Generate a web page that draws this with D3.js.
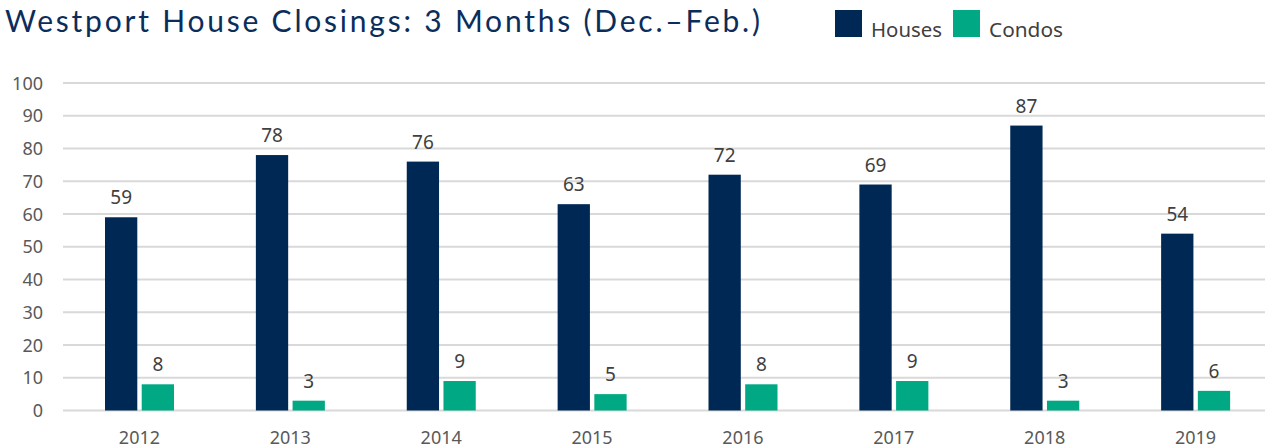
<!DOCTYPE html>
<html><head><meta charset="utf-8">
<script src="https://cdn.jsdelivr.net/npm/d3@7"></script>
<style>
html,body{margin:0;padding:0;background:#fff;}
svg{display:block;}
</style></head>
<body>
<svg id="chart" width="1265" height="448"></svg>
<script>
const years = ["2012","2013","2014","2015","2016","2017","2018","2019"];
const houses = [59, 78, 76, 63, 72, 69, 87, 54];
const condos = [8, 3, 9, 5, 8, 9, 3, 6];
const yTicks = [0,10,20,30,40,50,60,70,80,90,100];
const seriesNames = ["Houses","Condos"];
const colors = ["#002855","#00a983"];

const svg = d3.select("#chart");
const W = 1265;
const x0 = d3.scaleBand().domain(years).range([64, 1271]).paddingInner(0).paddingOuter(0);
const x1 = d3.scaleBand().domain(seriesNames).range([41, 110]).paddingInner(0.12);
const y = d3.scaleLinear().domain([0,100]).range([410.5, 83]);

// gridlines
svg.append("g").selectAll("line").data(yTicks).join("line")
  .attr("x1", 63).attr("x2", W)
  .attr("y1", d=>y(d)).attr("y2", d=>y(d))
  .attr("stroke", "#d9d9d9").attr("stroke-width", 2);

// y axis labels
const yAxis = d3.axisLeft(y).tickValues(yTicks).tickSize(0).tickPadding(0);
const ya = svg.append("g").attr("transform","translate(43,0)").call(yAxis);
ya.select(".domain").remove();
ya.selectAll("text").attr("font-family","Noto Sans, sans-serif").attr("font-size",18).attr("fill","#595959").attr("dy","0.34em");

// x axis labels
const xAxis = d3.axisBottom(x0).tickSize(0).tickPadding(0);
const xa = svg.append("g").attr("transform","translate(0,444)").call(xAxis);
xa.select(".domain").remove();
xa.selectAll("text").attr("font-family","Noto Sans, sans-serif").attr("font-size",18).attr("fill","#595959").attr("dy",0);

const data = years.map((yr,i)=>({year:yr, vals:[{s:"Houses",v:houses[i]},{s:"Condos",v:condos[i]}]}));
const groups = svg.append("g").selectAll("g").data(data).join("g")
  .attr("transform", d=>`translate(${x0(d.year)},0)`);
groups.selectAll("rect").data(d=>d.vals).join("rect")
  .attr("x", d=>x1(d.s)).attr("width", x1.bandwidth())
  .attr("y", d=>y(d.v)).attr("height", d=>y(0)-y(d.v))
  .attr("fill", (d,i)=>colors[i]);
groups.selectAll("text").data(d=>d.vals).join("text")
  .attr("x", d=>x1(d.s)+x1.bandwidth()/2).attr("y", d=>y(d.v)-13)
  .attr("text-anchor","middle")
  .attr("font-family","Noto Sans, sans-serif").attr("font-size",19).attr("fill","#404040")
  .text(d=>d.v);

// title
svg.append("text").attr("x",5).attr("y",32)
  .attr("font-family","Lato, sans-serif").attr("font-size",30).attr("fill","#0b2d5b")
  .attr("textLength",755).attr("lengthAdjust","spacing")
  .text("Westport House Closings: 3 Months (Dec.–Feb.)");

// legend
const legX = [835, 953];
const legW = [71, 74];
const leg = svg.append("g").selectAll("g").data(seriesNames).join("g")
  .attr("transform",(d,i)=>`translate(${legX[i]},10)`);
leg.append("rect").attr("width",27).attr("height",27).attr("fill",(d,i)=>colors[i]);
leg.append("text").attr("x",36).attr("y",26.5)
  .attr("font-family","Noto Sans, sans-serif").attr("font-size",19).attr("fill","#404040")
  .attr("textLength",(d,i)=>legW[i]).attr("lengthAdjust","spacingAndGlyphs")
  .text(d=>d);
</script>
</body></html>
